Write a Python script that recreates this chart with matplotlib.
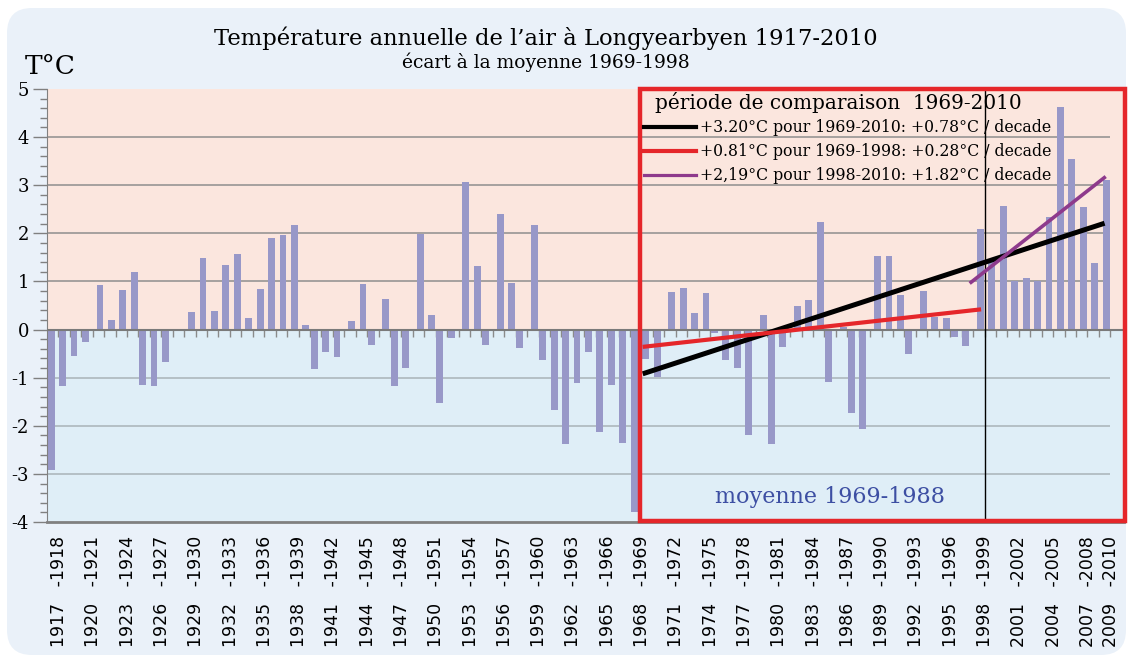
import numpy as np
import matplotlib
matplotlib.use("Agg")
import matplotlib.pyplot as plt
from matplotlib.patches import FancyBboxPatch, Rectangle
from matplotlib.lines import Line2D

# annual anomalies vs 1969-1998 mean, one value per winter-year 1917-1918 ... 2009-2010
years = list(range(1917, 2010))
anomaly = [
    -2.92, -1.17, -0.54, -0.25, 0.92, 0.19, 0.82, 1.19, -1.15, -1.17,
    -0.67, 0.00, 0.36, 1.48, 0.38, 1.34, 1.57, 0.23, 0.85, 1.90,
    1.97, 2.17, 0.09, -0.82, -0.47, -0.58, 0.17, 0.94, -0.32, 0.63,
    -1.17, -0.79, 1.99, 0.30, -1.53, -0.17, 3.07, 1.32, -0.32, 2.40,
    0.97, -0.38, 2.17, -0.63, -1.67, -2.38, -1.11, -0.47, -2.13, -1.15,
    -2.36, -3.80, -0.61, -0.99, 0.78, 0.86, 0.34, 0.76, -0.07, -0.63,
    -0.79, -2.19, 0.30, -2.38, -0.36, 0.49, 0.61, 2.24, -1.09, 0.05,
    -1.74, -2.07, 1.53, 1.53, 0.72, -0.51, 0.80, 0.26, 0.24, -0.15,
    -0.34, 2.09, 1.42, 2.57, 1.00, 1.07, 1.00, 2.34, 4.63, 3.55,
    2.55, 1.38, 3.11,
]
label_years = list(range(1917, 2008, 3)) + [2009]
y_ticks = [-4, -3, -2, -1, 0, 1, 2, 3, 4, 5]

# trend lines (year, value at both ends)
trend_all_x = [1968.6, 2009.0]
trend_all_y = [-0.92, 2.21]
trend_old_x = [1968.6, 1998.2]
trend_old_y = [-0.36, 0.42]
trend_new_x = [1997.2, 2009.1]
trend_new_y = [0.96, 3.18]

legend_texts = [
    "+3.20°C pour 1969-2010: +0.78°C / decade",
    "+0.81°C pour 1969-1998: +0.28°C / decade",
    "+2,19°C pour 1998-2010: +1.82°C / decade",
]

BG = "#EAF1F9"
PINK = "#FBE6DE"
BLUE = "#DFEEF7"
BAR = "#9898C8"
RED = "#E5262A"
PURPLE = "#8E3A8C"
SERIF = "DejaVu Serif"

fig = plt.figure(figsize=(11.3, 6.59), dpi=100)
fig.patch.set_facecolor("white")
fig.patches.append(FancyBboxPatch((0.07, 0.04), 11.19, 6.47,
                                  boxstyle="round,pad=0,rounding_size=0.25",
                                  transform=fig.dpi_scale_trans,
                                  facecolor=BG, edgecolor="none", zorder=-10))

ax = fig.add_axes([47 / 1130, 1 - 522 / 659, 1077 / 1130, 433 / 659])
ax.set_facecolor("none")

x0 = 1917
idx = np.array(years) - x0
vals = np.array(anomaly)
ax.axhspan(0, 5, color=PINK, zorder=0, lw=0)
ax.axhspan(-4, 0, color=BLUE, zorder=0, lw=0)

last = len(years) - 0.5
for v in range(1, 5):
    ax.hlines(v, -0.5, last, color="#8e8e8e", lw=1.1, zorder=1)
for v in range(-3, 0):
    ax.hlines(v, -0.5, last, color="#a9b3b8", lw=1.1, zorder=1)
ax.vlines(np.arange(len(years)) + 0.5, -0.15, 0, color="#8a8a8a", lw=1, zorder=1.5)

offs = np.where(vals >= 0, 0.14, -0.14)
ax.bar(idx + offs, vals, width=0.6, color=BAR, zorder=2, lw=0)

ax.axhline(0, color="#7a7a7a", lw=1.5, zorder=3)

ax.axvline(1998.5 - x0, color="black", lw=1, zorder=4)
ax.plot(np.array(trend_all_x) - x0, trend_all_y, color="black", lw=3.6, zorder=5, solid_capstyle="butt")
ax.plot(np.array(trend_old_x) - x0, trend_old_y, color=RED, lw=3.0, zorder=5, solid_capstyle="butt")
ax.plot(np.array(trend_new_x) - x0, trend_new_y, color=PURPLE, lw=2.6, zorder=5, solid_capstyle="butt")

ax.add_patch(Rectangle((1968.35 - x0, -3.97), 42.45, 8.96, fill=False,
                       edgecolor=RED, lw=3.2, zorder=6, clip_on=False))

ax.set_xlim(-0.5, 93.7)
ax.set_ylim(-4, 5)
ax.set_yticks(y_ticks)
ax.set_yticklabels([str(v) for v in y_ticks], family=SERIF, fontsize=13)
ax.set_yticks(np.arange(-4, 5.01, 0.2), minor=True)
ax.tick_params(axis="y", which="major", length=10, color="#808080", width=1, pad=3)
ax.tick_params(axis="y", which="minor", length=5, color="#808080", width=1)

ax.set_xticks(np.array(label_years) - x0 + 0.55)
ax.set_xticklabels([f"{y}   -{y + 1}" for y in label_years], rotation=90,
                   fontsize=12.5, family="DejaVu Sans")
ax.tick_params(axis="x", length=0, pad=10)

for s in ["top", "right"]:
    ax.spines[s].set_visible(False)
ax.spines["left"].set_color("#808080")
ax.spines["bottom"].set_color("#808080")
ax.spines["bottom"].set_linewidth(2)

# legend block inside the red frame
ax.text(0.5645, 0.968, "période de comparaison  1969-2010", transform=ax.transAxes,
        family=SERIF, fontsize=14.4, va="center", ha="left", zorder=7)
for k, (txt, col, lw) in enumerate(zip(legend_texts, ["black", RED, PURPLE], [3.0, 3.0, 2.3])):
    y = 0.912 - k * 0.0555
    ax.add_line(Line2D([0.554, 0.6026], [y, y], transform=ax.transAxes, color=col, lw=lw, zorder=7))
    ax.text(0.6063, y, txt, transform=ax.transAxes, family=SERIF, fontsize=11.3,
            va="center", ha="left", zorder=7)

ax.text(0.727, 0.058, "moyenne 1969-1988", transform=ax.transAxes, family=SERIF,
        fontsize=16, color="#3D4FA3", ha="center", va="center", zorder=7)

fig.text(0.483, 0.942, "Température annuelle de l’air à Longyearbyen 1917-2010",
         family=SERIF, fontsize=16.3, ha="center", va="center")
fig.text(0.483, 0.905, "écart à la moyenne 1969-1998", family=SERIF, fontsize=13.5,
         ha="center", va="center")
fig.text(0.022, 0.899, "T°C", family=SERIF, fontsize=19, ha="left", va="center")

fig.savefig("out.png", dpi=100, facecolor=fig.get_facecolor())
